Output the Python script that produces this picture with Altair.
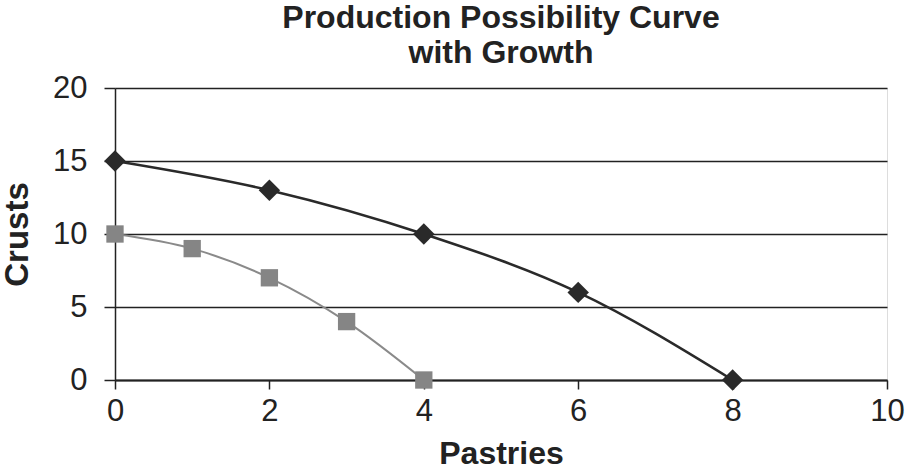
import altair as alt
import pandas as pd

# Data
outer_x = [0, 2, 4, 6, 8]
outer_y = [15, 13, 10, 6, 0]
inner_x = [0, 1, 2, 3, 4]
inner_y = [10, 9, 7, 4, 0]

df_outer = pd.DataFrame({"Pastries": outer_x, "Crusts": outer_y})
df_inner = pd.DataFrame({"Pastries": inner_x, "Crusts": inner_y})

FONT = "Liberation Sans"

x_enc = alt.X("Pastries:Q", scale=alt.Scale(domain=[0, 10], nice=False, zero=False),
              axis=alt.Axis(values=[0, 2, 4, 6, 8, 10], format="d", title="Pastries", grid=False,
                            labelFlush=False,
                            labelFontSize=31, titleFontSize=32, labelPadding=7, titlePadding=12,
                            tickSize=9, tickColor="#222", domainColor="#222", labelColor="#222",
                            titleColor="#222", labelFont=FONT, titleFont=FONT, titleFontWeight="bold",
                            domainWidth=2, tickWidth=1.5))
y_enc = alt.Y("Crusts:Q", scale=alt.Scale(domain=[0, 20], nice=False),
              axis=alt.Axis(values=[0, 5, 10, 15, 20], format="d", title="Crusts", grid=True, gridColor="#222",
                            gridWidth=1.5, gridOpacity=1, labelFlush=False,
                            labelFontSize=31, titleFontSize=33, labelPadding=17, titlePadding=18,
                            tickSize=11, tickColor="#222", domainColor="#222", labelColor="#222",
                            titleColor="#222", labelFont=FONT, titleFont=FONT, titleFontWeight="bold",
                            domainWidth=1.5, tickWidth=1.5))

outer_line = alt.Chart(df_outer).mark_line(color="#2a2a2a", strokeWidth=2.5, interpolate="monotone").encode(x=x_enc, y=y_enc)
outer_pts = alt.Chart(df_outer).mark_point(shape="diamond", filled=True, color="#2a2a2a", size=460, opacity=1).encode(x="Pastries:Q", y="Crusts:Q")
inner_line = alt.Chart(df_inner).mark_line(color="#8a8a8a", strokeWidth=2, interpolate="monotone").encode(x="Pastries:Q", y="Crusts:Q")
inner_pts = alt.Chart(df_inner).mark_point(shape="square", filled=True, color="#858585", size=300, opacity=1).encode(x="Pastries:Q", y="Crusts:Q")

chart = alt.layer(outer_line, inner_line, outer_pts, inner_pts).properties(
    width=772, height=292,
    title=alt.TitleParams(["Production Possibility Curve", "with Growth"], fontSize=32, font=FONT,
                          fontWeight="bold", color="#222", anchor="middle", lineHeight=35, offset=2),
    autosize=alt.AutoSizeParams(type="none"),
    padding={"left": 115, "top": 88, "right": 22, "bottom": 91},
).configure_view(stroke="#222", strokeWidth=2).configure(background="white")

chart.save("out.html", embed_options={"renderer": "svg", "actions": False})
